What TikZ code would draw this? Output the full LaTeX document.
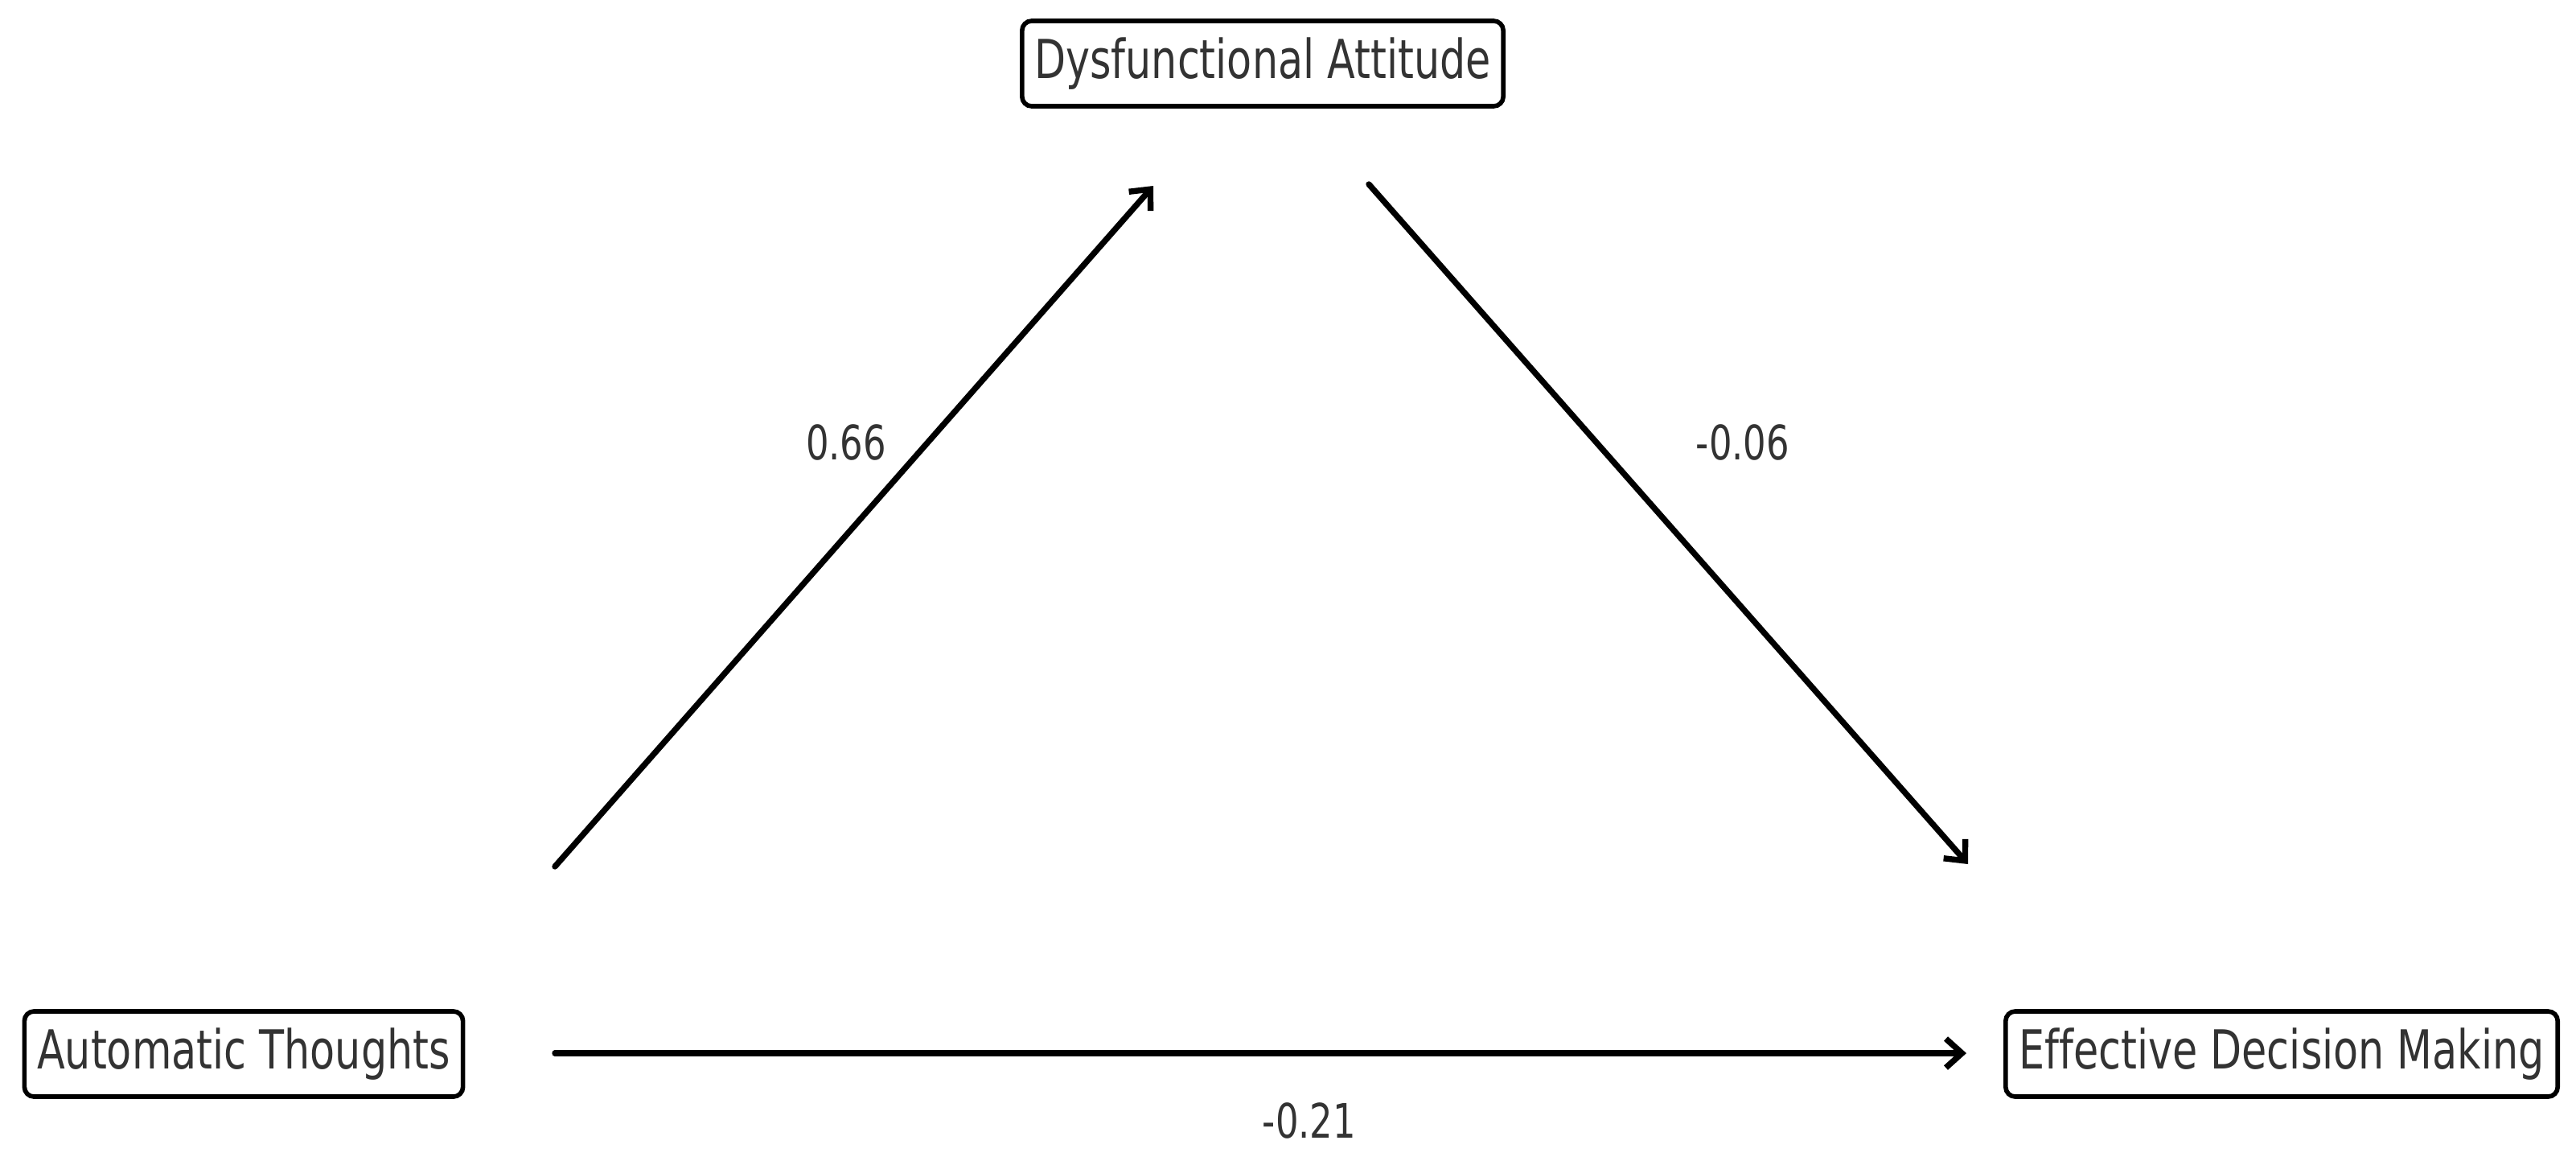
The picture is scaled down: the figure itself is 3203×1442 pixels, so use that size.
\documentclass[tikz,border=0pt]{standalone}
\usepackage{fontspec}
\setmainfont[Ligatures=NoCommon]{DejaVu Sans}
\usetikzlibrary{arrows.meta}
\newcommand{\sq}[1]{\scalebox{0.76}[1]{#1}}
\begin{document}
\begin{tikzpicture}[x=0.01cm,y=-0.01cm,
  varbox/.style={draw=black,line width=1.6pt,rounded corners=0.12cm,inner sep=0pt,
    minimum height=1.06cm,text=black!80,font=\fontsize{19}{23}\selectfont},
  pathlabel/.style={inner sep=0pt,text=black!80,font=\fontsize{16.8}{20}\selectfont},
  conn/.style={line width=2.1pt,line cap=round,-{Straight Barb[length=0.2cm,width=0.36cm,line width=2.1pt]}}]
\useasboundingbox (0,0) rectangle (3203,1442);
\node[varbox,minimum width=5.98cm] (da) at (1570,79) {\sq{Dysfunctional Attitude}};
\node[varbox,minimum width=5.45cm] (at) at (303,1310) {\sq{Automatic Thoughts}};
\node[varbox,minimum width=6.86cm] (edm) at (2837,1310) {\sq{Effective Decision Making}};
\coordinate (a1s) at (690,1077);
\coordinate (a1e) at (1434,231);
\coordinate (a2s) at (1702,229);
\coordinate (a2e) at (2447,1074);
\coordinate (a3s) at (690,1309);
\coordinate (a3e) at (2445,1309);
\draw[conn] (a1s) -- (a1e);
\draw[conn] (a2s) -- (a2e);
\draw[conn] (a3s) -- (a3e);
\node[pathlabel] (l1) at (1052,550) {\sq{0.66}};
\node[pathlabel] (l2) at (2167,550) {\sq{-0.06}};
\node[pathlabel] (l3) at (1628,1393) {\sq{-0.21}};
\end{tikzpicture}
\end{document}
